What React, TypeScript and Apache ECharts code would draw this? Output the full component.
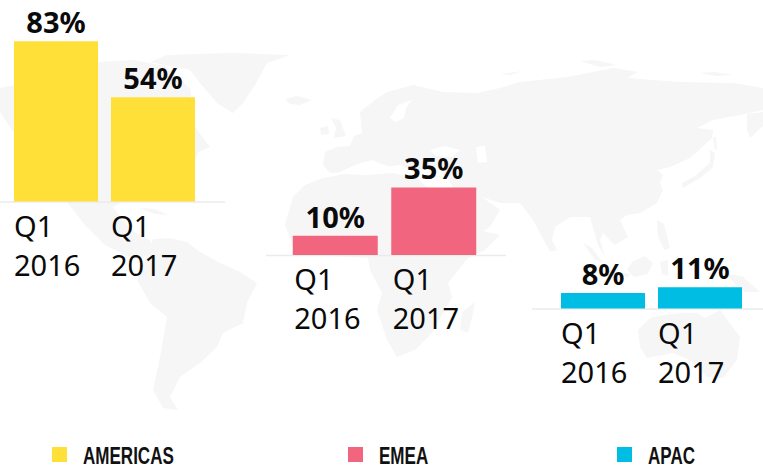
import React, { useEffect, useRef } from "react";
import * as echarts from "echarts";

const quarters = ["Q1\n2016", "Q1\n2017"];
const americasValues = [83, 54];
const emeaValues = [10, 35];
const apacValues = [8, 11];
const regionNames = ["AMERICAS", "EMEA", "APAC"];
const regionColors = ["#ffe038", "#f2657f", "#00bde3"];

const LAND = "#f6f6f6";
const WATER = "#ffffff";
const RULE = "#ebebeb";

const landShapes: number[][][] = [
  // North America
  [[0,88],[20,84],[40,86],[70,72],[100,62],[133,60],[165,66],[190,88],[195,127],[210,147],[198,152],[190,175],[150,190],[122,202],[113,207],[122,220],[135,232],[150,240],[153,250],[140,260],[125,255],[105,245],[85,225],[67,202],[30,160],[14,133],[0,112]],
  // Greenland
  [[167,55],[230,53],[290,55],[267,63],[255,85],[243,103],[233,113],[217,103],[200,83],[190,70],[150,62]],
  // Cuba
  [[140,208],[155,209],[168,215],[155,214]],
  // South America
  [[153,239],[170,238],[187,242],[200,252],[220,263],[240,272],[257,283],[247,303],[243,323],[223,333],[217,347],[200,363],[180,377],[170,397],[178,410],[163,408],[153,390],[160,357],[167,317],[150,303],[137,280],[147,253]],
  // Iceland
  [[285,99],[297,96],[312,100],[300,105],[290,104]],
  // UK and Ireland
  [[331,118],[340,120],[346,136],[334,138],[336,128]],
  [[320,128],[328,126],[329,134],[321,135]],
  // Eurasia
  [[323,165],[325,152],[337,147],[350,146],[354,136],[362,133],[360,112],[375,100],[387,92],[413,85],[443,92],[477,93],[500,88],[520,82],[567,77],[613,68],[638,72],[627,78],[680,82],[733,83],[763,88],[763,110],[750,113],[740,115],[713,120],[697,128],[713,130],[712,138],[690,158],[670,167],[657,170],[663,175],[660,183],[663,190],[657,203],[640,213],[627,215],[620,220],[628,237],[615,245],[603,233],[600,240],[605,257],[598,245],[590,217],[570,217],[555,227],[552,240],[557,250],[550,252],[533,220],[520,203],[500,203],[482,197],[500,210],[490,227],[476,235],[462,205],[448,178],[420,175],[400,165],[375,168],[358,165],[345,172],[330,173]],
  // Kamchatka
  [[747,114],[763,112],[763,126],[750,138],[747,130]],
  // Africa
  [[293,197],[305,185],[323,178],[345,174],[367,175],[393,173],[417,178],[440,200],[470,228],[500,235],[485,250],[468,258],[448,283],[452,297],[432,333],[415,350],[397,357],[387,340],[377,310],[382,293],[370,270],[368,258],[320,255],[293,245],[285,225]],
  // Madagascar
  [[475,302],[472,318],[468,333],[460,330],[462,312]],
  // Japan
  [[682,183],[695,176],[710,163],[710,150],[715,153],[713,167],[700,178],[683,188]],
  // Sakhalin
  [[713,137],[716,137],[717,150],[714,148]],
  // Novaya Zemlya
  [[580,61],[595,60],[617,65],[600,67]],
  // Arctic islands
  [[700,73],[715,72],[733,75],[715,76]],
  [[500,74],[523,71],[510,75]],
  // Sumatra
  [[583,243],[592,248],[603,263],[595,260]],
  // Java
  [[607,270],[630,274],[628,277],[608,273]],
  // Borneo
  [[632,262],[645,256],[653,263],[648,274],[634,277],[627,270]],
  // Philippines
  [[657,220],[664,224],[670,248],[664,250],[658,236]],
  // Sulawesi
  [[660,262],[668,260],[668,276],[662,274]],
  // New Guinea
  [[727,274],[742,276],[760,292],[745,292],[735,284]],
  // Australia
  [[638,330],[650,318],[663,315],[683,313],[697,313],[705,318],[720,310],[740,337],[737,360],[723,378],[707,377],[690,360],[673,353],[647,358],[640,347]],
];

const waterShapes: number[][][] = [
  // Baltic
  [[390,118],[398,105],[412,100],[406,108],[404,118],[396,122]],
  // Mediterranean
  [[340,172],[355,165],[372,160],[392,168],[418,170],[438,168],[445,176],[415,176],[392,172],[368,174],[345,174]],
  // Black Sea
  [[430,150],[445,146],[460,150],[452,157],[436,156]],
  // Caspian
  [[476,147],[485,146],[487,162],[478,163]],
  // Red Sea
  [[440,180],[448,182],[470,222],[464,222]],
];

const App = () => {
  const ref = useRef<HTMLDivElement>(null);

  useEffect(() => {
    const chart = echarts.init(ref.current!, null, { renderer: "svg" });

    const grids = [
      { left: 7.5, width: 194, top: 8.5, height: 193 },
      { left: 286, width: 197, top: 62, height: 193 },
      { left: 554.5, width: 194, top: 115.5, height: 193 },
    ];
    const values = [americasValues, emeaValues, apacValues];
    const labelShift = [-42, -41, -42];
    const rules = [
      { x1: 0, x2: 225, y: 202 },
      { x1: 266, x2: 506, y: 255.5 },
      { x1: 532, x2: 763, y: 309 },
    ];
    const legendSwatchX = [52, 348, 617];
    const legendTextX = [83, 379, 648];

    chart.setOption({
      animation: false,
      backgroundColor: "#ffffff",
      grid: grids,
      xAxis: grids.map((_, i) => ({
        type: "category",
        gridIndex: i,
        data: quarters,
        axisLine: { show: false },
        axisTick: { show: false },
        axisLabel: {
          interval: 0,
          color: "#0a0a0a",
          fontFamily: "Noto Sans",
          fontSize: 29,
          lineHeight: 39,
          margin: 4,
          align: "left",
          padding: [0, 0, 0, labelShift[i]],
        },
      })),
      yAxis: grids.map((_, i) => ({
        type: "value",
        gridIndex: i,
        min: 0,
        max: 100,
        show: false,
      })),
      series: regionNames.map((name, i) => ({
        type: "bar",
        name,
        xAxisIndex: i,
        yAxisIndex: i,
        data: values[i],
        barWidth: i === 1 ? 85 : 84,
        itemStyle: { color: regionColors[i] },
        label: {
          show: true,
          position: "top",
          distance: 5,
          formatter: "{c}%",
          color: "#0a0a0a",
          fontFamily: "Noto Sans",
          fontWeight: "bold",
          fontSize: 29,
        },
      })),
      graphic: [
        ...landShapes.map((points) => ({
          type: "polygon",
          z: 0,
          silent: true,
          shape: { points },
          style: { fill: LAND },
        })),
        ...waterShapes.map((points) => ({
          type: "polygon",
          z: 0,
          silent: true,
          shape: { points },
          style: { fill: WATER },
        })),
        ...rules.map((r) => ({
          type: "line",
          z: 0,
          silent: true,
          shape: { x1: r.x1, y1: r.y, x2: r.x2, y2: r.y },
          style: { stroke: RULE, lineWidth: 1.5 },
        })),
        ...regionNames.map((_, i) => ({
          type: "rect",
          z: 1,
          silent: true,
          shape: { x: legendSwatchX[i], y: 447, width: 15, height: 15 },
          style: { fill: regionColors[i] },
        })),
        ...regionNames.map((name, i) => ({
          type: "text",
          z: 1,
          silent: true,
          x: legendTextX[i],
          y: 455,
          scaleX: 0.71,
          style: {
            text: name,
            fill: "#111111",
            fontFamily: "Liberation Sans",
            fontWeight: "bold",
            fontSize: 24,
            verticalAlign: "middle",
          },
        })),
      ],
    });

    return () => chart.dispose();
  }, []);

  return <div ref={ref} style={{ position: "fixed", left: 0, top: 0, width: 763, height: 466 }} />;
};

export default App;
